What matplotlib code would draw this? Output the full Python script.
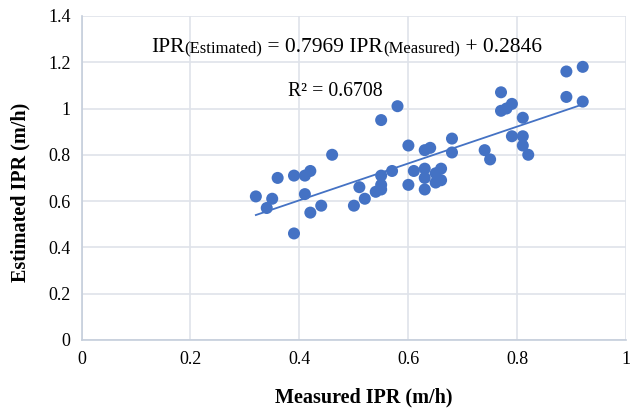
import matplotlib
matplotlib.use("Agg")
import matplotlib.pyplot as plt
import numpy as np

measured = [0.32, 0.35, 0.34, 0.36, 0.39, 0.41, 0.42, 0.41, 0.46, 0.39, 0.42, 0.44,
            0.50, 0.51, 0.52, 0.55, 0.55, 0.55, 0.55, 0.54, 0.57, 0.58, 0.60, 0.60,
            0.61, 0.63, 0.64, 0.63, 0.63, 0.63, 0.65, 0.65, 0.66, 0.66, 0.68, 0.68,
            0.74, 0.75, 0.77, 0.77, 0.78, 0.79, 0.81, 0.79, 0.81, 0.81, 0.82, 0.89,
            0.92, 0.89, 0.92]
estimated = [0.62, 0.61, 0.57, 0.70, 0.71, 0.71, 0.73, 0.63, 0.80, 0.46, 0.55, 0.58,
             0.58, 0.66, 0.61, 0.95, 0.71, 0.67, 0.65, 0.64, 0.73, 1.01, 0.84, 0.67,
             0.73, 0.82, 0.83, 0.74, 0.70, 0.65, 0.72, 0.68, 0.74, 0.69, 0.87, 0.81,
             0.82, 0.78, 1.07, 0.99, 1.00, 1.02, 0.96, 0.88, 0.88, 0.84, 0.80, 1.16,
             1.18, 1.05, 1.03]
slope, intercept = 0.7969, 0.2846
x_ticks = [0, 0.2, 0.4, 0.6, 0.8, 1]
y_ticks = [0, 0.2, 0.4, 0.6, 0.8, 1, 1.2, 1.4]

plt.rcParams['font.family'] = ['Liberation Serif', 'DejaVu Serif']
fig = plt.figure(figsize=(6.32, 4.09), dpi=100)
ax = fig.add_axes([0.129, 0.169, 0.862, 0.792])
color = '#4472C4'
ax.scatter(measured, estimated, s=75, color=color, zorder=3, edgecolors='none')
xs = np.array([min(measured), max(measured)])
ax.plot(xs, slope * xs + intercept, color=color, lw=1.3, zorder=2)

ax.set_xlim(0, 1)
ax.set_ylim(0, 1.4)
ax.set_xticks(x_ticks)
ax.set_yticks(y_ticks)
ax.set_xticklabels([f"{t:g}" for t in x_ticks])
ax.set_yticklabels([f"{t:g}" for t in y_ticks])
ax.tick_params(length=0, labelsize=13, pad=8)
ax.grid(True, color='#dfe3ea', lw=1.2, zorder=0)
for s in ['top', 'right']:
    ax.spines[s].set_visible(False)
ax.spines['left'].set_color('#c5cedb')
ax.spines['bottom'].set_color('#c5cedb')
ax.spines['left'].set_linewidth(1.2)
ax.spines['bottom'].set_linewidth(1.2)

ax.set_xlabel('Measured IPR (m/h)', fontsize=14.5, fontweight='bold')
ax.set_ylabel('Estimated IPR (m/h)', fontsize=14.5, fontweight='bold')
ax.xaxis.set_label_coords(0.518, -0.148)
ax.yaxis.set_label_coords(-0.094, 0.454)

# equation with mixed font sizes on a shared baseline
pieces = [("IPR", 15.5), ("(Estimated)", 12), (" = 0.7969 IPR", 15.5),
          ("(Measured)", 12), (" + 0.2846", 15.5)]
fig.canvas.draw()
renderer = fig.canvas.get_renderer()
x_px, y_px = 151, 409 - 52
for txt, fs in pieces:
    t = fig.text(x_px / 632, y_px / 409, txt, fontsize=fs, va='baseline', ha='left')
    bb = t.get_window_extent(renderer)
    x_px = bb.x1
fig.text(288 / 632, (409 - 96) / 409, "R² = 0.6708", fontsize=14.2, va='baseline', ha='left')

fig.savefig('out.png', dpi=100)
